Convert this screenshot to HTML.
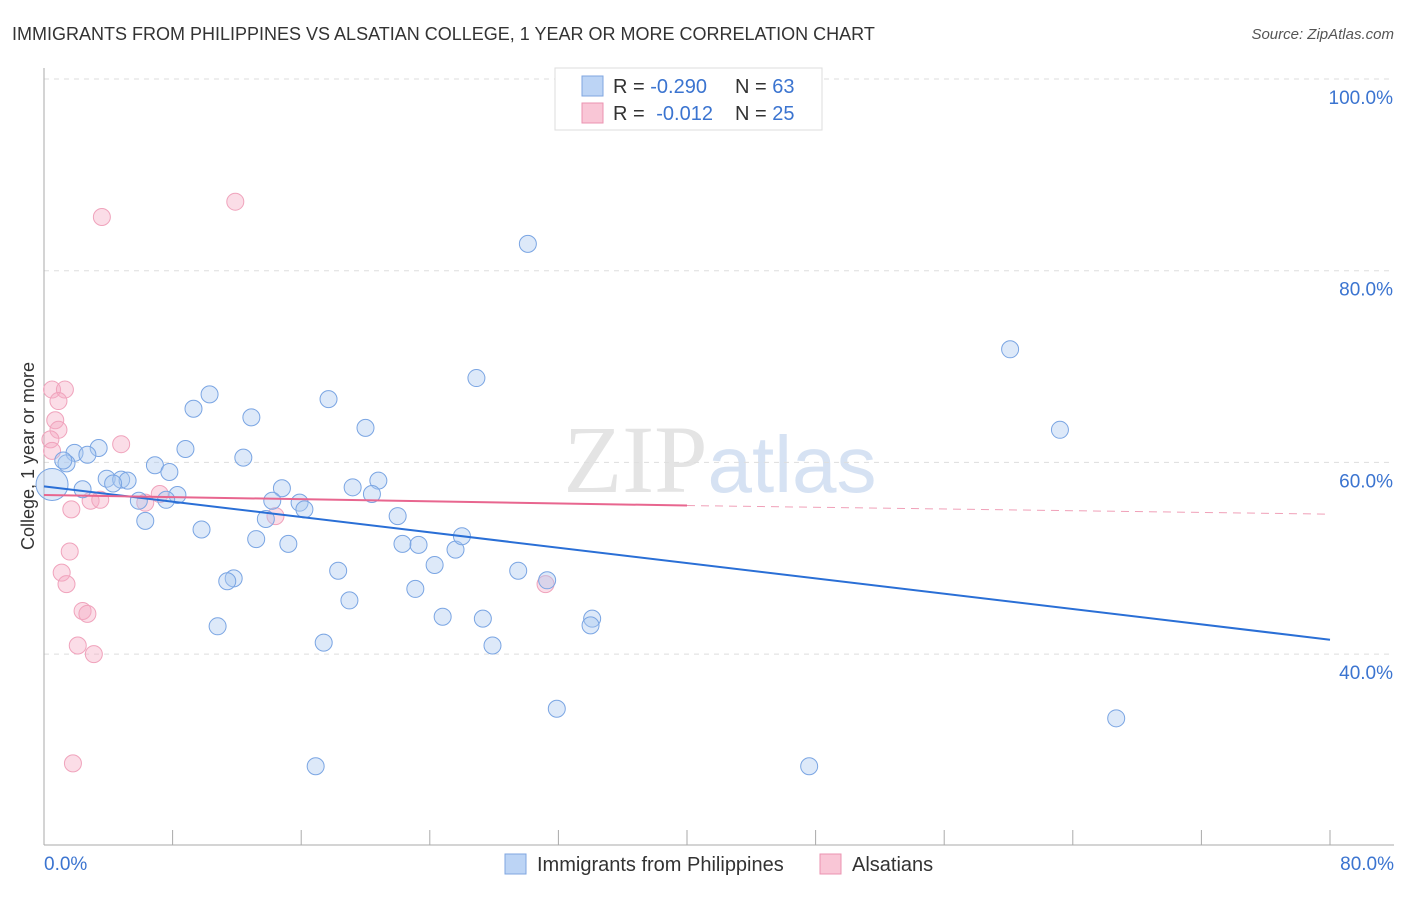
<!DOCTYPE html>
<html><head><meta charset="utf-8"><style>
body{margin:0;background:#fff;font-family:"Liberation Sans",sans-serif;}
svg text{font-family:"Liberation Sans",sans-serif;}
</style></head><body>
<svg width="1406" height="892" xmlns="http://www.w3.org/2000/svg">
<text x="12" y="40" font-size="18" fill="#333">IMMIGRANTS FROM PHILIPPINES VS ALSATIAN COLLEGE, 1 YEAR OR MORE CORRELATION CHART</text>
<text x="1394" y="39" font-size="15" fill="#555" font-style="italic" text-anchor="end">Source: ZipAtlas.com</text>
<text x="720" y="492" font-size="96" fill="#e4e4e4" text-anchor="middle" font-family="Liberation Serif"><tspan font-family="Liberation Serif">ZIP</tspan><tspan fill="#d6e2f3" font-size="80" font-family="Liberation Sans">atlas</tspan></text>
<g id="grid"></g>
<line x1="44" y1="68" x2="44" y2="845" stroke="#aaa"/>
<line x1="44" y1="845" x2="1394" y2="845" stroke="#aaa"/>
<text transform="translate(34,456) rotate(-90)" font-size="18" fill="#333" text-anchor="middle">College, 1 year or more</text>
<text x="44" y="870" font-size="19" fill="#3b74d0">0.0%</text>
<text x="1394" y="870" font-size="19" fill="#3b74d0" text-anchor="end">80.0%</text>
<g id="ylabels"></g>
<g id="pts"></g>
<g id="lines"></g>
<g>
<rect x="555" y="68" width="267" height="62" fill="#fff" stroke="#ddd"/>
<rect x="582" y="76" width="21" height="20" fill="#bcd4f5" stroke="#7fa6e0"/>
<rect x="582" y="103" width="21" height="20" fill="#f9c6d6" stroke="#eb93b0"/>
<text x="613" y="93" font-size="20" fill="#333">R = <tspan fill="#3b74d0">-0.290</tspan></text>
<text x="735" y="93" font-size="20" fill="#333">N = <tspan fill="#3b74d0">63</tspan></text>
<text x="613" y="120" font-size="20" fill="#333">R = <tspan fill="#3b74d0" dx="6">-0.012</tspan></text>
<text x="735" y="120" font-size="20" fill="#333">N = <tspan fill="#3b74d0">25</tspan></text>
</g>
<g>
<rect x="505" y="854" width="21" height="20" fill="#bcd4f5" stroke="#7fa6e0"/>
<text x="537" y="871" font-size="20" fill="#333">Immigrants from Philippines</text>
<rect x="820" y="854" width="21" height="20" fill="#f9c6d6" stroke="#eb93b0"/>
<text x="852" y="871" font-size="20" fill="#333">Alsatians</text>
</g>
</svg>
<script>
const yTicks=[100,80,60,40];
const xTicks=[0,8,16,24,32,40,48,56,64,72,80];
const blueX=[30.1,60.1,63.2,66.7,47.6,16.9,26.9,10.3,9.3,12.9,17.7,20.0,3.4,8.8,1.9,2.7,1.4,12.4,6.9,7.8,3.9,4.8,5.2,4.3,2.4,0.5,8.3,7.6,5.9,14.8,14.2,15.9,16.2,13.8,6.3,9.8,13.2,15.2,19.2,20.8,20.4,22.0,22.3,23.3,25.6,26.0,24.3,18.3,29.5,31.3,11.8,11.4,23.1,19.0,10.8,17.4,24.8,27.3,34.1,34.0,27.9,31.9,1.2];
const blueY=[82.8,71.8,63.4,33.3,28.3,28.3,68.8,67.1,65.6,64.7,66.6,63.6,61.5,61.4,61.0,60.8,59.9,60.5,59.7,59.0,58.3,58.2,58.1,57.8,57.2,57.7,56.6,56.1,56.0,57.3,56.0,55.8,55.1,54.1,53.9,53.0,52.0,51.5,57.4,58.1,56.7,54.4,51.5,51.4,50.9,52.3,49.3,48.7,48.7,47.7,47.9,47.6,46.8,45.6,42.9,41.2,43.9,43.7,43.7,43.0,40.9,34.3,60.2];
const pinkX=[11.9,3.6,0.5,1.3,0.9,0.7,0.9,0.4,4.8,0.5,7.2,6.3,2.9,3.5,1.7,14.4,1.6,1.1,1.4,2.4,2.7,2.1,3.1,1.8,31.2];
const pinkY=[87.2,85.6,67.6,67.6,66.4,64.4,63.4,62.4,61.9,61.2,56.7,55.8,56.0,56.1,55.1,54.4,50.7,48.5,47.3,44.5,44.2,40.9,40.0,28.6,47.3];
const blueTrend=[57.5,41.5]; const pinkTrend=[56.6,55.5,54.6];
const NS='http://www.w3.org/2000/svg';
const X=v=>44+v*16.075, Y=v=>79+(100-v)*9.585;
function mk(t,a,p){const e=document.createElementNS(NS,t);for(const k in a)e.setAttribute(k,a[k]);document.getElementById(p).appendChild(e);return e;}
yTicks.forEach((t,i)=>{
 const l=mk('line',{x1:44,x2:1394,y1:Y(t),y2:Y(t),stroke:'#ddd','stroke-dasharray':'5,5'},'grid');
 
 
 const tx=mk('text',{x:1393,y:Y(t)+25,'font-size':19,fill:'#3b74d0','text-anchor':'end'},'ylabels');
 tx.textContent=t.toFixed(1)+'%';
 
 
});
xTicks.forEach(t=>{
 const l=mk('line',{x1:X(t),x2:X(t),y1:830,y2:845,stroke:'#aaa'},'grid');
 
 
});
pinkX.forEach((x,i)=>{
 const c=mk('circle',{cx:X(x),cy:Y(pinkY[i]),r:8.5,fill:'rgba(246,170,195,0.4)',stroke:'#f0a3bc','stroke-width':1},'pts');
 
 
});
blueX.forEach((x,i)=>{
 const c=mk('circle',{cx:X(x),cy:Y(blueY[i]),r:i==25?16:8.5,fill:'rgba(170,200,240,0.4)',stroke:'#7aa5e3','stroke-width':1},'pts');
 
 
});
let l=mk('line',{x1:X(0),y1:Y(blueTrend[0]),x2:X(80),y2:Y(blueTrend[1]),stroke:'#2a6fd6','stroke-width':2},'lines');


l=mk('line',{x1:X(0),y1:Y(pinkTrend[0]),x2:X(40),y2:Y(pinkTrend[1]),stroke:'#e8668f','stroke-width':2},'lines');


l=mk('line',{x1:X(40),y1:Y(pinkTrend[1]),x2:X(80),y2:Y(pinkTrend[2]),stroke:'#f0a0b8','stroke-width':1,'stroke-dasharray':'8,6'},'lines');


</script>
</body></html>
